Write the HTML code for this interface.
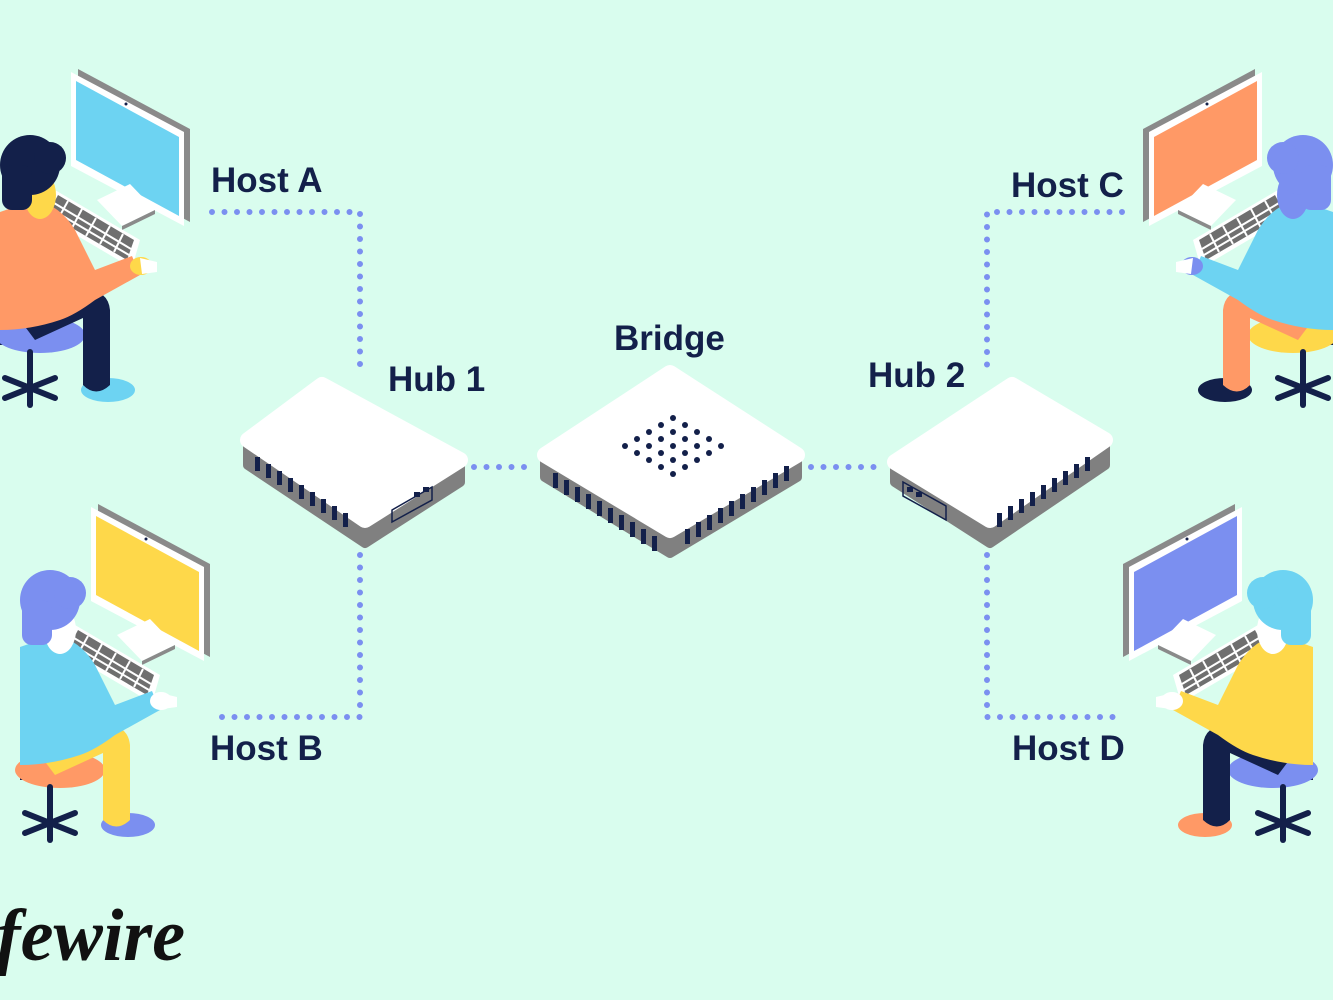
<!DOCTYPE html>
<html><head><meta charset="utf-8"><style>
html,body{margin:0;padding:0;background:#d9fdee;}
svg{display:block}
text{font-family:"Liberation Sans",sans-serif;font-weight:bold;fill:#13204a}
</style></head><body>
<svg width="1333" height="1000" viewBox="0 0 1333 1000" xmlns="http://www.w3.org/2000/svg">
<rect width="1333" height="1000" fill="#d9fdee"/>
<defs>
<g id="ws">
  <polygon points="78,69 190,129 190,222 78,162" fill="#8a8a8a"/>
  <polygon points="71,72 184,132 184,226 71,166" fill="#fff"/>
  <polygon points="76,81 179,137 179,216 76,160" style="fill:var(--scr)"/>
  <circle cx="126" cy="104" r="1.5" fill="#13204a"/>
  <polygon points="118,190 132,197 132,212 118,205" fill="#fff"/>
  <polygon points="97,200 130,184 155,210 122,226" fill="#fff"/>
  <polygon points="122,226 155,210 155,214 122,230" fill="#8a8a8a"/>
  <polygon points="55,190 140,240 132,268 42,215" fill="#fff"/>
  <polygon points="58,195 134,240 127,260 48,214" fill="#6f6f6f"/>
  <g stroke="#fff" stroke-width="2">
    <line x1="54" y1="203" x2="131" y2="249"/><line x1="51" y1="209" x2="129" y2="255"/>
    <line x1="68" y1="201" x2="58" y2="219"/><line x1="82" y1="209" x2="72" y2="228"/>
    <line x1="96" y1="218" x2="86" y2="236"/><line x1="110" y1="226" x2="100" y2="244"/>
    <line x1="123" y1="234" x2="114" y2="252"/>
  </g>
  <path d="M0,235 Q40,250 50,300 Q55,340 20,345 L0,345 Z" fill="#13204a"/>
  <path d="M0,245 Q32,258 40,300 Q44,330 15,336 L0,336 Z" style="fill:var(--chair)"/>
  <ellipse cx="40" cy="335" rx="45" ry="18" style="fill:var(--chair)"/>
  <ellipse cx="108" cy="390" rx="27" ry="12" style="fill:var(--shoe)"/>
  <path d="M20,320 L85,290 Q108,290 110,310 L110,385 Q96,398 83,385 L83,318 L35,340 Z" style="fill:var(--pants)"/>
  <path d="M0,212 L35,200 Q60,205 75,230 L95,270 L132,256 L140,275 L95,300 Q75,315 60,320 Q30,330 0,330 Z" style="fill:var(--shirt)"/>
  <ellipse cx="141" cy="266" rx="11" ry="9" style="fill:var(--skin)"/>
  <polygon points="140,258 157,262 157,272 142,274" fill="#fff"/>
  <ellipse cx="40" cy="195" rx="16" ry="24" style="fill:var(--skin)"/>
  <circle cx="30" cy="165" r="30" style="fill:var(--hair)"/>
  <circle cx="50" cy="158" r="16" style="fill:var(--hair)"/>
  <rect x="2" y="165" width="30" height="45" rx="10" style="fill:var(--hair)"/>
  <g stroke="#13204a" stroke-width="6" stroke-linecap="round" fill="#13204a">
    <line x1="30" y1="352" x2="30" y2="385"/>
    <line x1="5" y1="378" x2="55" y2="398"/><line x1="5" y1="398" x2="55" y2="378"/>
    <line x1="30" y1="385" x2="30" y2="405"/>
  </g>
</g>
</defs>

<use href="#ws" style="--scr:#6dd3f2;--hair:#13204a;--skin:#fed84a;--shirt:#ff9966;--pants:#13204a;--chair:#7b8ff0;--shoe:#6dd3f2"/>
<use href="#ws" transform="translate(20,435)" style="--scr:#fed84a;--hair:#7b8ff0;--skin:#fff;--shirt:#6dd3f2;--pants:#fed84a;--chair:#ff9966;--shoe:#7b8ff0"/>
<use href="#ws" transform="translate(1333,0) scale(-1,1)" style="--scr:#ff9966;--hair:#7b8ff0;--skin:#7b8ff0;--shirt:#6dd3f2;--pants:#ff9966;--chair:#fed84a;--shoe:#13204a"/>
<use href="#ws" transform="translate(1313,435) scale(-1,1)" style="--scr:#7b8ff0;--hair:#6dd3f2;--skin:#fff;--shirt:#fed84a;--pants:#13204a;--chair:#7b8ff0;--shoe:#ff9966"/>

<g fill="none" stroke="#7b8ff0" stroke-width="6" stroke-linecap="round" stroke-dasharray="0 12.5">
  <path d="M212,212 H360 V375"/>
  <path d="M360,555 V717 H212"/>
  <path d="M474,467 H533"/>
  <path d="M811,467 H880"/>
  <path d="M1122,212 H987 V375"/>
  <path d="M987,555 V717 H1122"/>
</g>

<g stroke-linejoin="round">
  <polygon points="248,440 248,465 365,543 460,482 460,460 365,520" fill="#808080" stroke="#808080" stroke-width="10"/>
  <polygon points="248,440 322,385 460,460 365,520" fill="#fff" stroke="#fff" stroke-width="16"/>
</g>
<g fill="#13204a">
  <rect x="255" y="457" width="5" height="14"/><rect x="266" y="464" width="5" height="14"/>
  <rect x="277" y="471" width="5" height="14"/><rect x="288" y="478" width="5" height="14"/>
  <rect x="299" y="485" width="5" height="14"/><rect x="310" y="492" width="5" height="14"/>
  <rect x="321" y="499" width="5" height="14"/><rect x="332" y="506" width="5" height="14"/>
  <rect x="343" y="513" width="5" height="14"/>
  <polygon points="392,510 432,487 432,500 392,522" fill="none" stroke="#13204a" stroke-width="1.5"/>
  <rect x="414" y="492" width="6" height="5"/><rect x="423" y="487" width="6" height="5"/>
</g>

<g stroke-linejoin="round">
  <polygon points="545,455 545,477 670,553 797,477 797,455 670,530" fill="#808080" stroke="#808080" stroke-width="10"/>
  <polygon points="545,455 670,373 797,455 670,530" fill="#fff" stroke="#fff" stroke-width="16"/>
</g>
<g fill="#13204a">
  <rect x="553" y="473" width="5" height="15"/><rect x="564" y="480" width="5" height="15"/>
  <rect x="575" y="487" width="5" height="15"/><rect x="586" y="494" width="5" height="15"/>
  <rect x="597" y="501" width="5" height="15"/><rect x="608" y="508" width="5" height="15"/>
  <rect x="619" y="515" width="5" height="15"/><rect x="630" y="522" width="5" height="15"/>
  <rect x="641" y="529" width="5" height="15"/><rect x="652" y="536" width="5" height="15"/>
  <rect x="685" y="529" width="5" height="15"/><rect x="696" y="522" width="5" height="15"/>
  <rect x="707" y="515" width="5" height="15"/><rect x="718" y="508" width="5" height="15"/>
  <rect x="729" y="501" width="5" height="15"/><rect x="740" y="494" width="5" height="15"/>
  <rect x="751" y="487" width="5" height="15"/><rect x="762" y="480" width="5" height="15"/>
  <rect x="773" y="473" width="5" height="15"/><rect x="784" y="466" width="5" height="15"/>
</g>
<g fill="#13204a" transform="translate(673,446)">
  <g id="drow"><circle cx="-48" cy="0" r="3"/><circle cx="-36" cy="-7" r="3"/><circle cx="-24" cy="-14" r="3"/><circle cx="-12" cy="-21" r="3"/><circle cx="0" cy="-28" r="3"/></g>
  <use href="#drow" transform="translate(12,7)"/><use href="#drow" transform="translate(24,14)"/>
  <use href="#drow" transform="translate(36,21)"/><use href="#drow" transform="translate(48,28)"/>
</g>

<g stroke-linejoin="round">
  <polygon points="895,462 895,482 990,543 1105,465 1105,440 990,520" fill="#808080" stroke="#808080" stroke-width="10"/>
  <polygon points="895,462 1012,385 1105,440 990,520" fill="#fff" stroke="#fff" stroke-width="16"/>
</g>
<g fill="#13204a">
  <rect x="997" y="513" width="5" height="14"/><rect x="1008" y="506" width="5" height="14"/>
  <rect x="1019" y="499" width="5" height="14"/><rect x="1030" y="492" width="5" height="14"/>
  <rect x="1041" y="485" width="5" height="14"/><rect x="1052" y="478" width="5" height="14"/>
  <rect x="1063" y="471" width="5" height="14"/><rect x="1074" y="464" width="5" height="14"/>
  <rect x="1085" y="457" width="5" height="14"/>
  <polygon points="903,482 946,506 946,520 903,496" fill="none" stroke="#13204a" stroke-width="1.5"/>
  <rect x="907" y="487" width="6" height="5"/><rect x="916" y="492" width="6" height="5"/>
</g>

<g font-size="35">
  <text x="211" y="192">Host A</text>
  <text x="388" y="391">Hub 1</text>
  <text x="614" y="350">Bridge</text>
  <text x="868" y="387">Hub 2</text>
  <text x="1011" y="197">Host C</text>
  <text x="210" y="760">Host B</text>
  <text x="1012" y="760">Host D</text>
</g>
<text x="-4" y="960" font-size="74" font-style="italic" style="fill:#111;font-family:'Liberation Serif',serif">fewire</text>
</svg>
</body></html>
